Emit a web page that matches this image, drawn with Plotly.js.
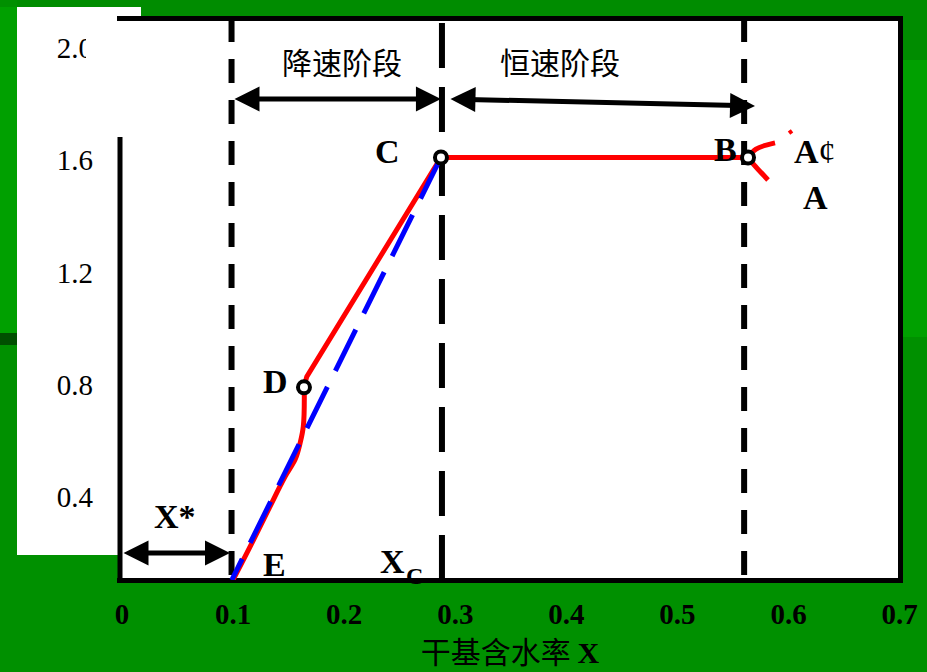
<!DOCTYPE html>
<html><head><meta charset="utf-8">
<script src="https://cdn.plot.ly/plotly-3.0.1.min.js"></script>
<style>html,body{margin:0;padding:0;background:#009000;}#chart{width:927px;height:672px;}</style>
</head><body><div id="chart"></div>
<script>
// ---- data ----
const xTickVals = [0, 0.1, 0.2, 0.3, 0.4, 0.5, 0.6, 0.7];
const xTickText = ['0', '0.1', '0.2', '0.3', '0.4', '0.5', '0.6', '0.7'];
const yTickVals = [0.4, 0.8, 1.2, 1.6, 2.0];
const yTickText = ['0.4', '0.8', '1.2', '1.6', '2.0'];

// drying-rate curve, lower (curved) part E -> D
const lowerX = [0.100, 0.1168, 0.1317, 0.1467, 0.1560, 0.1605, 0.1632, 0.1641, 0.1638];
const lowerY = [0.105, 0.235, 0.354, 0.472, 0.535, 0.595, 0.651, 0.758, 0.791];
// upper part D -> C -> B
const upperX = [0.1638, 0.1663, 0.2871, 0.5635];
const upperY = [0.791, 0.829, 1.610, 1.610];
// start-up branches beyond B
const branchA1X = [0.5635, 0.5707, 0.5878];
const branchA1Y = [1.610, 1.640, 1.662];
const tailA1X = [0.6004, 0.6031];
const tailA1Y = [1.697, 1.705];
const branchAX = [0.5635, 0.5689, 0.5815];
const branchAY = [1.610, 1.584, 1.530];
// straight-line approximation C -> E
const lineX = [0.2871, 0.0988];
const lineY = [1.610, 0.104];
// marked points D, C, B
const ptX = [0.1638, 0.2871, 0.5635];
const ptY = [0.791, 1.610, 1.610];
// critical moisture lines: X*, Xc, B
const vLines = [0.0986, 0.288, 0.560];
const vDash = ['24px,17px', '45px,19px', '24px,17px'];

// ---- geometry helpers (pixel -> paper) for decoration ----
const L = 120, R = 27, T = 18, B = 92, W = 927, H = 672;
const pw = W - L - R, ph = H - T - B;
const PX = p => (p - L) / pw;
const PY = p => (H - B - p) / ph;
function rect(x0, y0, x1, y1, color, layer) {
  return {type: 'rect', xref: 'paper', yref: 'paper', x0: PX(x0), x1: PX(x1), y0: PY(y0), y1: PY(y1),
          fillcolor: color, line: {width: 0}, layer: layer || 'below'};
}
function seg(x0, y0, x1, y1) {
  return {type: 'line', xref: 'paper', yref: 'paper', x0: PX(x0), x1: PX(x1), y0: PY(y0), y1: PY(y1),
          line: {color: '#000', width: 5}, layer: 'below'};
}

const shapes = [
  rect(0, 7, 927, 337, '#00A000'),
  rect(17, 0, 927, 7, '#008C00'),
  rect(141, 7, 927, 16, '#008C00'),
  rect(903, 0, 927, 60, '#008C00'),
  rect(0, 333, 17, 345, '#004F00'),
  rect(120, 18, 900, 580, '#FFFFFF'),
  rect(17, 7, 141, 137, '#FFFFFF'),
  rect(17, 137, 118, 555, '#FFFFFF'),
  seg(117, 18.5, 903, 18.5),
  seg(900.5, 16, 900.5, 583),
  seg(117, 580.5, 903, 580.5),
  seg(120, 137, 120, 583),
  rect(86, 28, 116, 72, '#FFFFFF', 'above')
];
vLines.forEach((v, i) => {
  shapes.push({type: 'line', xref: 'x', yref: 'paper', x0: v, x1: v,
    y0: i === 1 ? 0 : 1, y1: i === 1 ? 1 : 0,
    line: {color: '#000', width: 6, dash: vDash[i]}, layer: 'below'});
});

const traces = [
  {x: lowerX, y: lowerY, mode: 'lines', line: {color: '#FF0000', width: 5, shape: 'spline', smoothing: 1}, hoverinfo: 'skip'},
  {x: upperX, y: upperY, mode: 'lines', line: {color: '#FF0000', width: 5}, hoverinfo: 'skip'},
  {x: branchA1X, y: branchA1Y, mode: 'lines', line: {color: '#FF0000', width: 5, shape: 'spline'}, hoverinfo: 'skip'},
  {x: tailA1X, y: tailA1Y, mode: 'lines', line: {color: '#FF0000', width: 4}, hoverinfo: 'skip'},
  {x: branchAX, y: branchAY, mode: 'lines', line: {color: '#FF0000', width: 5, shape: 'spline'}, hoverinfo: 'skip'},
  {x: lineX, y: lineY, mode: 'lines', line: {color: '#0000FF', width: 5, dash: '46px,18px'}, hoverinfo: 'skip'},
  {x: ptX, y: ptY, mode: 'markers', marker: {symbol: 'circle', size: 12, color: '#FFFFFF', line: {color: '#000', width: 4}}, hoverinfo: 'skip'}
];

const serifB = {family: 'Liberation Serif, Times New Roman, serif', size: 34, color: '#000'};
function label(text, x, y, font) {
  return {text: text, x: x, y: y, xref: 'x', yref: 'y', showarrow: false, font: font || serifB,
          xanchor: 'center', yanchor: 'middle'};
}
function arrow(x0, y0, x1, y1) {
  return {text: '', x: x1, y: y1, ax: x0, ay: y0, xref: 'x', yref: 'y', axref: 'x', ayref: 'y',
          showarrow: true, arrowside: 'end+start', arrowhead: 2, startarrowhead: 2,
          arrowsize: 1, startarrowsize: 1, arrowwidth: 5, arrowcolor: '#000'};
}
const cjk = {family: 'Noto Sans CJK SC, sans-serif', size: 30, color: '#000'};

const annotations = [
  label('<b>C</b>', 0.2394, 1.630),
  label('<b>D</b>', 0.1386, 0.813),
  label('<b>E</b>', 0.1377, 0.158),
  label('<b>X*</b>', 0.0477, 0.329),
  label('<b>B</b>', 0.5428, 1.637),
  label('<b>A</b>¢', 0.6238, 1.630),
  label('<b>A</b>', 0.6238, 1.469),
  label('<b>X</b>', 0.2439, 0.169),
  label('<b>C</b>', 0.2633, 0.120, {family: 'Liberation Serif, serif', size: 24, color: '#000'}),
  label('降速阶段', 0.1980, 1.954, cjk),
  label('恒速阶段', 0.3943, 1.954, cjk),
  arrow(0, 0.2005, 0.0972, 0.2005),
  arrow(0.0999, 1.8184, 0.2871, 1.8184),
  arrow(0.2943, 1.8184, 0.5698, 1.7935)
];

const layout = {
  width: W, height: H,
  margin: {l: L, r: R, t: T, b: B, pad: 0},
  paper_bgcolor: '#009000', plot_bgcolor: '#FFFFFF',
  showlegend: false,
  xaxis: {range: [-0.0018, 0.7003], tickvals: xTickVals, ticktext: xTickText,
    tickfont: {family: 'Liberation Serif, serif', size: 29, weight: 'bold', color: '#000'},
    showgrid: false, zeroline: false, showline: false, ticks: '', ticklabelstandoff: 14,
    title: {text: '干基含水率 <b><span style="font-family:Liberation Serif">X</span></b>',
            font: {family: 'Noto Sans CJK SC, sans-serif', size: 30, color: '#000'}, standoff: 8},
    fixedrange: true},
  yaxis: {range: [0.1042, 2.1071], tickvals: yTickVals, ticktext: yTickText,
    tickfont: {family: 'Liberation Serif, serif', size: 29, color: '#000'},
    showgrid: false, zeroline: false, showline: false, ticks: '', ticklabelstandoff: 26,
    fixedrange: true},
  shapes: shapes,
  annotations: annotations
};

Plotly.newPlot('chart', traces, layout, {staticPlot: true, displayModeBar: false});
</script>
</body></html>
